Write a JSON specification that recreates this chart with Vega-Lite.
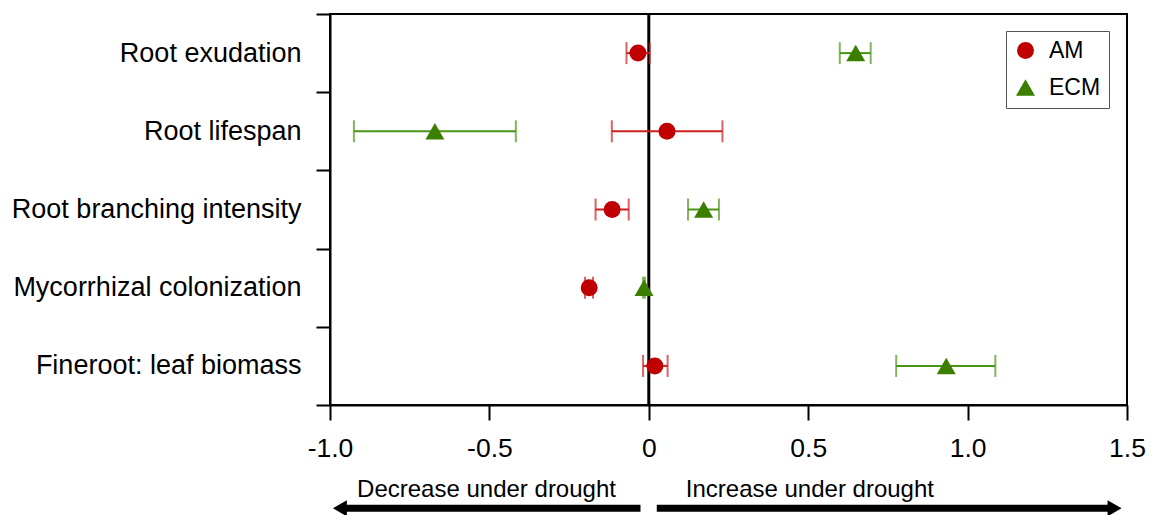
{
  "$schema": "https://vega.github.io/schema/vega-lite/v6.json",
  "width": 797,
  "height": 391,
  "autosize": {"type": "none"},
  "padding": {"left": 330, "top": 14, "right": 26, "bottom": 110},
  "background": "white",
  "config": {
    "font": "Liberation Sans",
    "view": {"stroke": "black", "strokeWidth": 2},
    "axis": {"domainColor": "black", "domainWidth": 2, "tickColor": "black", "tickWidth": 2, "labelColor": "black", "labelFont": "Liberation Sans", "grid": false, "title": null}
  },
  "datasets": {
    "effects": [
      {"trait": "Root exudation", "group": "AM", "est": -0.034, "lo": -0.07, "hi": 0.003},
      {"trait": "Root exudation", "group": "ECM", "est": 0.649, "lo": 0.599, "hi": 0.696},
      {"trait": "Root lifespan", "group": "AM", "est": 0.057, "lo": -0.116, "hi": 0.231},
      {"trait": "Root lifespan", "group": "ECM", "est": -0.671, "lo": -0.925, "hi": -0.417},
      {"trait": "Root branching intensity", "group": "AM", "est": -0.115, "lo": -0.167, "hi": -0.063},
      {"trait": "Root branching intensity", "group": "ECM", "est": 0.172, "lo": 0.123, "hi": 0.22},
      {"trait": "Mycorrhizal colonization", "group": "AM", "est": -0.187, "lo": -0.2, "hi": -0.175},
      {"trait": "Mycorrhizal colonization", "group": "ECM", "est": -0.015, "lo": -0.018, "hi": -0.012},
      {"trait": "Fineroot: leaf biomass", "group": "AM", "est": 0.019, "lo": -0.018, "hi": 0.059},
      {"trait": "Fineroot: leaf biomass", "group": "ECM", "est": 0.933, "lo": 0.776, "hi": 1.087}
    ],
    "arrows": [
      {"label": "Decrease under drought", "dir": "left", "start": -0.026, "end": -0.969, "textx": -0.915},
      {"label": "Increase under drought", "dir": "right", "start": 0.025, "end": 1.461, "textx": 0.116}
    ]
  },
  "layer": [
    {
      "data": {"values": [{}]},
      "mark": {"type": "rule", "color": "black", "strokeWidth": 3},
      "encoding": {
        "x": {
          "datum": 0, "type": "quantitative",
          "scale": {"domain": [-1, 1.5], "nice": false, "zero": false},
          "axis": {
            "values": [-1, -0.5, 0, 0.5, 1, 1.5],
            "labelExpr": "datum.value == 0 ? '0' : (datum.value < 0 ? '-' + format(-datum.value, '.1f') : format(datum.value, '.1f'))",
            "tickSize": 15, "labelFontSize": 26.5, "labelPadding": 15, "labelFlush": false, "labelOverlap": false
          }
        }
      }
    },
    {
      "data": {"name": "effects"},
      "encoding": {
        "y": {
          "field": "trait", "type": "nominal",
          "sort": ["Root exudation", "Root lifespan", "Root branching intensity", "Mycorrhizal colonization", "Fineroot: leaf biomass"],
          "scale": {"paddingInner": 0, "paddingOuter": 0},
          "axis": {"tickBand": "extent", "tickSize": 14, "labelFontSize": 27, "labelPadding": 15, "labelLimit": 400}
        }
      },
      "layer": [
        {
          "transform": [{"filter": "datum.group == 'AM'"}],
          "layer": [
            {"mark": {"type": "rule", "strokeWidth": 2, "color": "#CC1F1F"}, "encoding": {"x": {"field": "lo", "type": "quantitative"}, "x2": {"field": "hi"}}},
            {"mark": {"type": "tick", "thickness": 2, "size": 22, "color": "#CC1F1F"}, "encoding": {"x": {"field": "lo", "type": "quantitative"}}},
            {"mark": {"type": "tick", "thickness": 2, "size": 22, "color": "#CC1F1F"}, "encoding": {"x": {"field": "hi", "type": "quantitative"}}}
          ]
        },
        {
          "transform": [{"filter": "datum.group == 'ECM'"}],
          "layer": [
            {"mark": {"type": "rule", "strokeWidth": 2, "color": "#4A9516"}, "encoding": {"x": {"field": "lo", "type": "quantitative"}, "x2": {"field": "hi"}}},
            {"mark": {"type": "tick", "thickness": 2, "size": 22, "color": "#4A9516"}, "encoding": {"x": {"field": "lo", "type": "quantitative"}}},
            {"mark": {"type": "tick", "thickness": 2, "size": 22, "color": "#4A9516"}, "encoding": {"x": {"field": "hi", "type": "quantitative"}}}
          ]
        },
        {
          "mark": {"type": "point", "filled": true, "opacity": 1},
          "encoding": {
            "x": {"field": "est", "type": "quantitative"},
            "color": {
              "field": "group", "type": "nominal",
              "scale": {"domain": ["AM", "ECM"], "range": ["#C00000", "#3C7F00"]},
              "legend": {
                "title": null, "orient": "none", "legendX": 676, "legendY": 17,
                "strokeColor": "#555555", "fillColor": "white", "padding": 8,
                "labelFontSize": 23, "labelFont": "Liberation Sans", "labelColor": "black",
                "symbolSize": 300, "labelOffset": 12, "rowPadding": 13
              }
            },
            "shape": {
              "field": "group", "type": "nominal",
              "scale": {"domain": ["AM", "ECM"], "range": ["circle", "triangle-up"]},
              "legend": {
                "title": null, "orient": "none", "legendX": 676, "legendY": 17,
                "strokeColor": "#555555", "fillColor": "white", "padding": 8,
                "labelFontSize": 23, "labelFont": "Liberation Sans", "labelColor": "black",
                "symbolSize": 300, "labelOffset": 12, "rowPadding": 13
              }
            },
            "size": {"field": "group", "type": "nominal", "scale": {"domain": ["AM", "ECM"], "range": [289, 361]}, "legend": null}
          }
        }
      ]
    },
    {
      "data": {"name": "arrows"},
      "encoding": {
        "y": {"datum": -0.2642, "type": "quantitative", "scale": {"domain": [0, 1], "nice": false, "zero": false}, "axis": null}
      },
      "layer": [
        {
          "mark": {"type": "rule", "color": "black", "strokeWidth": 7},
          "encoding": {
            "x": {"field": "start", "type": "quantitative"},
            "x2": {"field": "end"}
          }
        },
        {
          "transform": [{"filter": "datum.dir == 'left'"}],
          "mark": {"type": "point", "shape": "triangle-left", "filled": true, "color": "black", "opacity": 1, "size": 260},
          "encoding": {"x": {"field": "end", "type": "quantitative"}}
        },
        {
          "transform": [{"filter": "datum.dir == 'right'"}],
          "mark": {"type": "point", "shape": "triangle-right", "filled": true, "color": "black", "opacity": 1, "size": 260},
          "encoding": {"x": {"field": "end", "type": "quantitative"}}
        },
        {
          "mark": {"type": "text", "align": "left", "baseline": "alphabetic", "fontSize": 24, "font": "Liberation Sans", "color": "black"},
          "encoding": {
            "x": {"field": "textx", "type": "quantitative"},
            "y": {"datum": -0.2353, "type": "quantitative"},
            "text": {"field": "label"}
          }
        }
      ]
    }
  ],
  "resolve": {"scale": {"y": "independent"}}
}
